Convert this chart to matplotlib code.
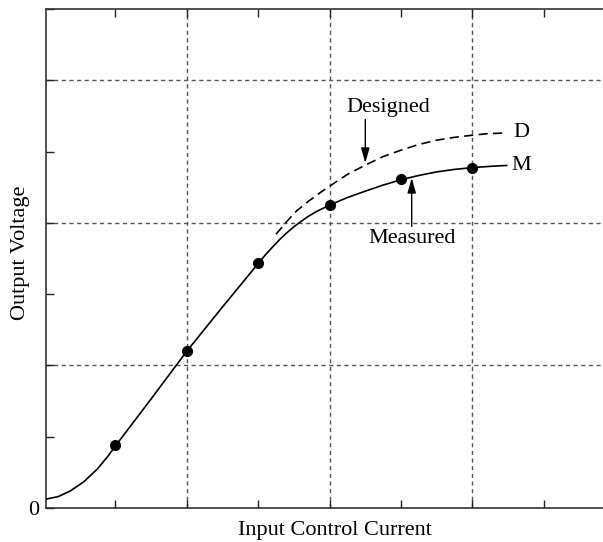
import matplotlib.pyplot as plt
import numpy as np

plt.rcParams['font.family'] = ['Liberation Serif', 'DejaVu Serif']

# measured curve
meas_x = [0.03, 0.2, 0.37, 0.56, 0.75, 0.89, 1.0, 1.5, 2.0, 2.5, 3.0, 3.1, 3.2, 3.3, 3.4, 3.5,
          3.6, 3.7, 3.8, 3.9, 4.0, 4.25, 4.5, 4.75, 5.0, 5.25, 5.5, 5.75, 6.0, 6.25, 6.48]
meas_y = [0.125, 0.16, 0.24, 0.37, 0.55, 0.72, 0.87, 1.53, 2.2, 2.82, 3.43, 3.55, 3.66, 3.765, 3.86, 3.945,
          4.02, 4.09, 4.15, 4.20, 4.25, 4.355, 4.445, 4.53, 4.605, 4.665, 4.715, 4.75, 4.775, 4.793, 4.805]
# measured points (dots)
pts_x = [1, 2, 3, 4, 5, 6]
pts_y = [0.88, 2.2, 3.43, 4.25, 4.61, 4.775]
# designed curve
des_x = [3.25, 3.4, 3.54, 3.7, 3.87, 4.0, 4.25, 4.5, 4.75, 5.0, 5.25, 5.5, 5.75, 6.0, 6.2, 6.43]
des_y = [3.84, 4.02, 4.17, 4.30, 4.425, 4.515, 4.68, 4.81, 4.93, 5.02, 5.1, 5.16, 5.2, 5.23, 5.25, 5.26]

fig = plt.figure(figsize=(6.03, 5.42), dpi=100)
ax = fig.add_axes([46/603, 34/542, (602-46)/603, (533-34)/542])

# dashed grid at even positions
for g in [2, 4, 6]:
    ax.axvline(g, color='#555555', lw=1, ls=(0, (3, 2.5)), zorder=1)
    ax.axhline(g, color='#555555', lw=1, ls=(0, (3, 2.5)), zorder=1)

ax.plot(meas_x, meas_y, color='black', lw=1.2, zorder=3, solid_joinstyle='round')
ax.plot(pts_x, pts_y, 'o', color='black', ms=7, zorder=4)
ax.plot(des_x, des_y, color='black', lw=1.2, ls=(0, (5.5, 3.2)), zorder=3)

ax.text(6.57, 5.27, 'D', fontsize=16, va='center', ha='left')
ax.text(6.55, 4.80, 'M', fontsize=16, va='center', ha='left')

arrow = dict(arrowstyle='-|>,head_length=0.6,head_width=0.17', color='black', lw=1,
             mutation_scale=15, shrinkA=0, shrinkB=0)
ax.annotate('', xy=(4.5, 4.84), xytext=(4.5, 5.45), arrowprops=arrow)
ax.text(4.82, 5.56, 'Designed', fontsize=16, ha='center', va='baseline')
ax.annotate('', xy=(5.15, 4.63), xytext=(5.15, 3.95), arrowprops=arrow)
ax.text(5.15, 3.92, 'Measured', fontsize=16, ha='center', va='top')

ax.set_xlim(0.028, 7.815)
ax.set_ylim(0, 7)
ax.set_xticks(range(1, 8))
ax.set_xticklabels([])
ax.set_yticks(range(0, 8))
ax.set_yticklabels(['0'] + [''] * 7, fontsize=16)
ax.tick_params(direction='in', length=6, width=1, top=True, right=False, colors='#222222',
               labelcolor='black', pad=5)
ax.spines['right'].set_visible(False)
for s in ['top', 'bottom', 'left']:
    ax.spines[s].set_color('#333333')
    ax.spines[s].set_linewidth(1.2)

fig.text(335/603, 1 - 531/542, 'Input Control Current', fontsize=16, ha='center', va='center')
fig.text(21/603, 1 - 253/542, 'Output Voltage', fontsize=16, ha='center', va='center', rotation=90)

fig.savefig('out.png', dpi=100)
